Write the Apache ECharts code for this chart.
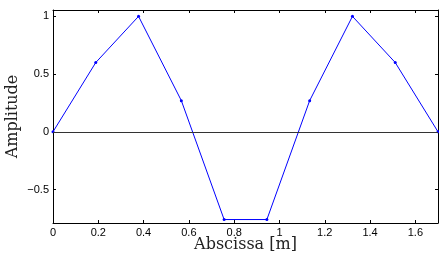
<!DOCTYPE html>
<html>
<head>
<meta charset="utf-8">
<script src="https://cdn.jsdelivr.net/npm/echarts@6/dist/echarts.min.js"></script>
<style>
  html, body { margin: 0; padding: 0; background: #fff; }
  #chart { width: 439px; height: 257px; }
</style>
</head>
<body>
<div id="chart"></div>
<script>
// data
const xs = [0, 0.1889, 0.3778, 0.5667, 0.7556, 0.9444, 1.1333, 1.3222, 1.5111, 1.7];
const amp = [0, 0.6, 1, 0.27, -0.76, -0.76, 0.27, 1, 0.6, 0];
const xTicks = [0, 0.2, 0.4, 0.6, 0.8, 1, 1.2, 1.4, 1.6];
const yTicks = [-0.5, 0, 0.5, 1];

const xMin = 0, xMax = 1.7;
const yMin = -0.79, yMax = 1.055;

const tickFont = { color: "#000", fontSize: 11, fontFamily: "Liberation Sans, Arial, sans-serif" };
const titleFont = { color: "#222", fontSize: 16, fontFamily: "DejaVu Serif, serif" };
const frameLine = { show: true, onZero: false, lineStyle: { color: "#000", width: 1 } };

function fmt(v) {
  if (v < 0) return "\u2212" + String(-v);
  return String(v);
}

const chart = echarts.init(document.getElementById("chart"), null, { renderer: "canvas" });
chart.setOption({
  animation: false,
  grid: { left: 53, right: 1, top: 10, bottom: 34, containLabel: false, outerBoundsMode: "none" },
  xAxis: [
    {
      type: "value", min: xMin, max: xMax,
      axisLine: frameLine,
      axisTick: { show: true, inside: true, length: 3, customValues: xTicks, lineStyle: { color: "#000" } },
      axisLabel: Object.assign({ customValues: xTicks, formatter: fmt, margin: 4 }, tickFont),
      splitLine: { show: false },
      name: "Abscissa [m]", nameLocation: "middle", nameGap: 14, nameMoveOverlap: false,
      nameTextStyle: titleFont
    },
    {
      type: "value", position: "top", min: xMin, max: xMax,
      axisLine: frameLine,
      axisTick: { show: true, inside: true, length: 3, customValues: xTicks, lineStyle: { color: "#000" } },
      axisLabel: { show: false },
      splitLine: { show: false }
    }
  ],
  yAxis: [
    {
      type: "value", min: yMin, max: yMax,
      axisLine: frameLine,
      axisTick: { show: true, inside: true, length: 3, customValues: yTicks, lineStyle: { color: "#000" } },
      axisLabel: Object.assign({ customValues: yTicks, formatter: fmt, margin: 4 }, tickFont),
      splitLine: { show: false },
      name: "Amplitude", nameLocation: "middle", nameGap: 32, nameMoveOverlap: false,
      nameTextStyle: titleFont
    },
    {
      type: "value", position: "right", min: yMin, max: yMax,
      axisLine: frameLine,
      axisTick: { show: true, inside: true, length: 3, customValues: yTicks, lineStyle: { color: "#000" } },
      axisLabel: { show: false },
      splitLine: { show: false }
    }
  ],
  series: [
    {
      type: "line",
      data: xs.map((x, i) => [x, amp[i]]),
      symbol: "circle", symbolSize: 3,
      lineStyle: { color: "#0000ff", width: 1 },
      itemStyle: { color: "#0000ff" },
      markLine: {
        silent: true, symbol: "none", label: { show: false },
        lineStyle: { color: "#333", width: 1, type: "solid" },
        data: [{ yAxis: 0 }]
      },
      z: 3
    }
  ]
});
</script>
</body>
</html>
